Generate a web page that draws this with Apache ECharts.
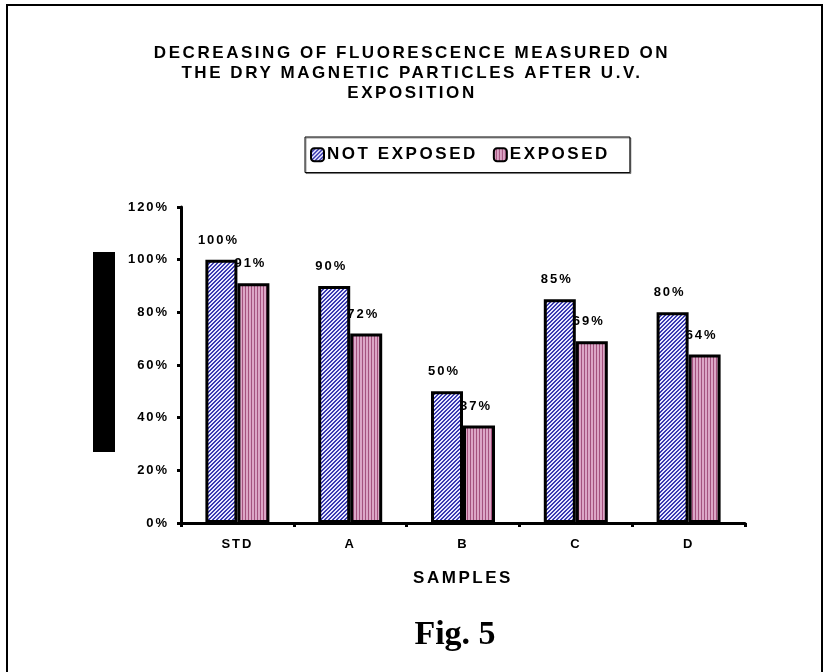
<!DOCTYPE html>
<html>
<head>
<meta charset="utf-8">
<script src="https://cdn.jsdelivr.net/npm/echarts@6/dist/echarts.min.js"></script>
<style>
html,body{margin:0;padding:0;background:#fff;}
#chart{width:824px;height:672px;}
</style>
</head>
<body>
<div id="chart"></div>
<script>
const categories = ['STD', 'A', 'B', 'C', 'D'];
const notExposed = [100, 90, 50, 85, 80];
const exposed = [91, 72, 37, 69, 64];
const yTicks = [0, 20, 40, 60, 80, 100, 120];
const seriesNames = ['NOT EXPOSED', 'EXPOSED'];
const titleLines = ['DECREASING OF FLUORESCENCE MEASURED ON', 'THE DRY MAGNETIC PARTICLES AFTER U.V.', 'EXPOSITION'];

// Excel-like letter spacing for sans-serif text (canvas letterSpacing, applied whenever a font is set)
(function () {
  const proto = CanvasRenderingContext2D.prototype;
  const desc = Object.getOwnPropertyDescriptor(proto, 'font');
  if (!desc || !('letterSpacing' in proto)) return;
  Object.defineProperty(proto, 'font', {
    configurable: true,
    get() { return desc.get.call(this); },
    set(v) {
      desc.set.call(this, v);
      const m = /(\d+(?:\.\d+)?)px/.exec(v);
      const serif = /Serif|Times/.test(v) && !/Sans/.test(v);
      this.letterSpacing = (m && !serif) ? (parseFloat(m[1]) * 0.15).toFixed(2) + 'px' : '0px';
    }
  });
})();

function hatchPattern() {
  const c = document.createElement('canvas');
  c.width = 4; c.height = 4;
  const x = c.getContext('2d');
  x.fillStyle = '#e8e8ff'; x.fillRect(0, 0, 4, 4);
  x.fillStyle = '#3a3ab0';
  for (let i = 0; i < 4; i++) { x.fillRect(i, 3 - i, 1, 1); x.fillRect((i + 1) % 4, 3 - i, 1, 1); }
  return { image: c, repeat: 'repeat' };
}
function stripePattern() {
  const c = document.createElement('canvas');
  c.width = 3; c.height = 3;
  const x = c.getContext('2d');
  x.fillStyle = '#dca6c6'; x.fillRect(0, 0, 3, 3);
  x.fillStyle = '#a4527e'; x.fillRect(2, 0, 1, 3);
  return { image: c, repeat: 'repeat' };
}

const chart = echarts.init(document.getElementById('chart'), null, { renderer: 'canvas' });
const SANS = '"Liberation Sans", Arial, sans-serif';
const bold13 = { fontFamily: SANS, fontWeight: 'bold', fontSize: 13, color: '#000' };

chart.setOption({
  animation: false,
  backgroundColor: '#fff',
  title: {
    text: titleLines.join('\n'),
    left: 'center',
    top: 38,
    textStyle: { fontFamily: SANS, fontWeight: 'bold', fontSize: 17, lineHeight: 20, color: '#000' }
  },
  legend: {
    data: seriesNames,
    left: 305,
    top: 137,
    padding: [8, 20, 8, 5],
    itemGap: 15,
    itemWidth: 13,
    itemHeight: 13,
    itemStyle: { borderColor: '#000', borderWidth: 2 },
    backgroundColor: '#fff',
    borderColor: '#000',
    borderWidth: 1,
    shadowColor: 'rgba(0,0,0,0.4)',
    shadowOffsetX: 1,
    shadowOffsetY: 1,
    textStyle: { fontFamily: SANS, fontWeight: 'bold', fontSize: 17, color: '#000', padding: [0, 0, 0, -2] }
  },
  grid: { left: 181, right: 79, top: 207, bottom: 149 },
  xAxis: {
    type: 'category',
    data: categories,
    name: 'SAMPLES',
    nameLocation: 'middle',
    nameGap: 46,
    nameTextStyle: { fontFamily: SANS, fontWeight: 'bold', fontSize: 17, color: '#000' },
    axisLine: { lineStyle: { color: '#000', width: 3 } },
    axisTick: { show: true, alignWithLabel: false, length: 4, lineStyle: { color: '#000', width: 3 } },
    axisLabel: Object.assign({ margin: 14 }, bold13)
  },
  yAxis: {
    type: 'value',
    min: 0,
    max: 120,
    interval: 20,
    axisLine: { show: true, lineStyle: { color: '#000', width: 3 } },
    axisTick: { show: true, length: 4, lineStyle: { color: '#000', width: 3 } },
    splitLine: { show: false },
    axisLabel: Object.assign({ margin: 12, formatter: v => yTicks.includes(v) ? v + '%' : '' }, bold13)
  },
  series: [
    {
      name: seriesNames[0],
      type: 'bar',
      data: notExposed,
      barWidth: 32,
      barGap: '0%',
      itemStyle: { color: hatchPattern(), borderColor: '#000', borderWidth: 3 },
      label: Object.assign({ show: true, position: 'top', distance: 12, formatter: '{c}%', offset: [-3, 0] }, bold13)
    },
    {
      name: seriesNames[1],
      type: 'bar',
      data: exposed,
      barWidth: 32,
      barGap: '0%',
      z: 1,
      itemStyle: { color: stripePattern(), borderColor: '#000', borderWidth: 3 },
      label: Object.assign({ show: true, position: 'top', distance: 12, formatter: '{c}%', offset: [-3, 0] }, bold13)
    }
  ],
  graphic: [
    { type: 'rect', shape: { x: 7, y: 5, width: 815, height: 700 }, style: { fill: 'none', stroke: '#000', lineWidth: 2 }, silent: true },
    { type: 'rect', shape: { x: 93, y: 252, width: 22, height: 200 }, style: { fill: '#000' }, silent: true },
    { type: 'text', x: 455, y: 635, style: { text: 'Fig. 5', font: 'bold 34px "Liberation Serif", "Times New Roman", serif', fill: '#000', textAlign: 'center', textVerticalAlign: 'middle' } }
  ]
});
</script>
</body>
</html>
